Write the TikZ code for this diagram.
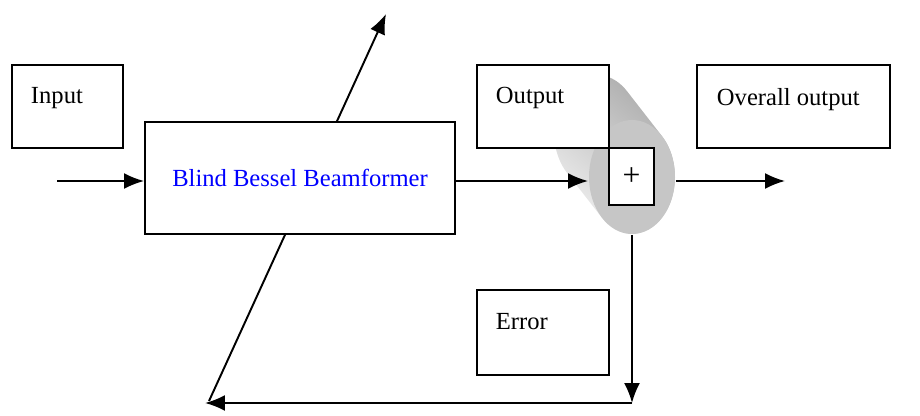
\documentclass[tikz,border=0pt]{standalone}
\usepackage{fontspec}
\setmainfont{Liberation Serif}
\usetikzlibrary{arrows.meta,shapes.geometric}

\begin{document}
\begin{tikzpicture}[x=0.02cm,y=-0.02cm,line width=1.1pt,
	box/.style={draw,fill=white,inner sep=0pt},
	arr/.style={-{Latex[length=4mm,width=3.2mm]}},
	lbl/.style={anchor=base west,inner sep=0pt,font=\fontsize{14}{16}\selectfont}]
		\useasboundingbox (0,0) rectangle (920,416);
		% summing cylinder
		\shade[top color=gray!65,bottom color=gray!12,shading angle=-40]
			plot[domain=-46:-226,samples=40] ({597+43*cos(\x)},{132+57*sin(\x)})
			-- plot[domain=134:-46,samples=40] ({632+43*cos(\x)},{177+57*sin(\x)}) -- cycle;
		\node[ellipse,fill=gray!45,inner sep=0pt,minimum width=1.72cm,minimum height=2.28cm] (cyl) at (632,177) {};
		% feedback line behind the beamformer
		\coordinate (dlow) at (209,401);
		\coordinate (dtop) at (386,14);
		\draw[arr] (dlow) -- (dtop);
		% boxes
		\node[box,minimum width=2.22cm,minimum height=1.66cm] (inp) at (67.5,106.5) {};
		\node[box,minimum width=6.2cm,minimum height=2.24cm,font=\fontsize{14}{16}\selectfont,text=blue] (bbb) at (300,178) {Blind Bessel Beamformer};
		\node[box,minimum width=2.64cm,minimum height=1.66cm] (outp) at (543,106.5) {};
		\node[box,minimum width=3.86cm,minimum height=1.66cm] (ovr) at (793.5,106.5) {};
		\node[box,minimum width=2.64cm,minimum height=1.7cm] (err) at (543,332.5) {};
		\node[box,minimum width=0.9cm,minimum height=1.14cm,font=\fontsize{18}{20}\selectfont] (sum) at (631.5,176.5) {+};
		\path (30,103) node[lbl] (tinp) {Input}
			(495,103) node[lbl] (toutp) {Output}
			(716,105) node[lbl] (tovr) {Overall output}
			(495,329) node[lbl] (terr) {Error};
		% arrows
		\coordinate (inbeg) at (57,181);
		\coordinate (outend) at (785,181);
		\coordinate (corner) at (632,403);
		\coordinate (fbend) at (205,403);
		\draw[arr] (inbeg) -- (inbeg -| bbb.west);
		\draw[arr] (inbeg -| bbb.east) -- (inbeg -| cyl.west);
		\draw[arr] (inbeg -| cyl.east) -- (outend);
		\draw[arr] (cyl.south) -- (corner);
		\draw[arr] (corner) -- (fbend);
	\end{tikzpicture}
\end{document}
